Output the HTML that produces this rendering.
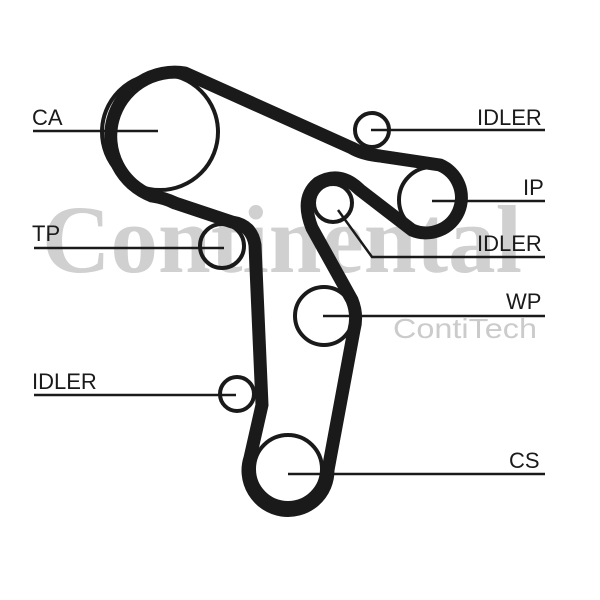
<!DOCTYPE html>
<html><head><style>
html,body{margin:0;padding:0;background:#fff;}
svg{display:block}
</style></head><body>
<svg width="600" height="600" viewBox="0 0 600 600" xmlns="http://www.w3.org/2000/svg">
<text x="42" y="272" font-family="Liberation Serif, serif" font-weight="bold" font-size="96" fill="#d0d0d0" textLength="480" lengthAdjust="spacingAndGlyphs">Continental</text>
<text x="393" y="338" font-family="Liberation Sans, sans-serif" font-size="28" fill="#cbcbcb" textLength="144" lengthAdjust="spacingAndGlyphs">ContiTech</text>

<g fill="none" stroke="#1a1a1a" stroke-width="13" stroke-linejoin="round" stroke-linecap="round">
<path d="M 185 73 L 352 148 Q 362 154 380 156 L 440 165 A 35 35 0 1 1 412 230 L 360 190 Q 340 170 318 183 Q 300 198 312 228 L 352 300 Q 358 315 354 330 L 328 470 A 40 40 0 1 1 250 458 L 262 405 L 255 245 Q 252 225 232 222 L 175 203 Q 165 198 152 196 A 64 64 0 0 1 185 73 Z"/>
</g>
<g fill="none" stroke="#1a1a1a" stroke-width="4">
<circle cx="160" cy="132" r="58"/>
<circle cx="372" cy="130" r="17"/>
<circle cx="432" cy="200" r="33"/>
<circle cx="333" cy="203" r="19"/>
<circle cx="222" cy="246" r="22"/>
<circle cx="324" cy="316" r="29"/>
<circle cx="237" cy="394" r="17"/>
<circle cx="288" cy="469" r="34"/>
</g>
<g stroke="#1a1a1a" stroke-width="2.5" fill="none">
<line x1="33" y1="131" x2="158" y2="131"/>
<line x1="371" y1="130" x2="545" y2="130"/>
<line x1="432" y1="201" x2="545" y2="201"/>
<polyline points="338,210 372,257 545,257"/>
<line x1="34" y1="248" x2="224" y2="248"/>
<line x1="323" y1="316" x2="545" y2="316"/>
<line x1="34" y1="395" x2="236" y2="395"/>
<line x1="288" y1="474" x2="545" y2="474"/>
</g>
<g font-family="Liberation Sans, sans-serif" font-size="22" fill="#1a1a1a">
<text x="32" y="125">CA</text>
<text x="477" y="125">IDLER</text>
<text x="523" y="195">IP</text>
<text x="477" y="251">IDLER</text>
<text x="32" y="241">TP</text>
<text x="506" y="309">WP</text>
<text x="32" y="389">IDLER</text>
<text x="509" y="468">CS</text>
</g>
</svg>
</body></html>
